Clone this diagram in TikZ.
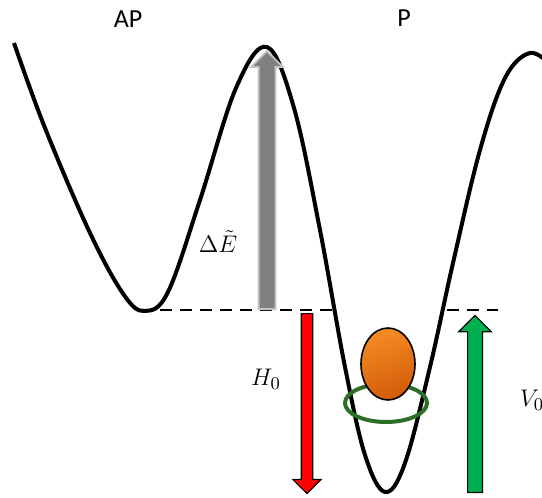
\documentclass[tikz,border=0pt]{standalone}
\usepackage{amsmath}
\usepackage{fontspec}
\setsansfont{Carlito}
\usetikzlibrary{shapes.arrows, positioning, calc}

\definecolor{barriergray}{RGB}{128,128,128}
\definecolor{barrieredge}{RGB}{195,195,195}
\definecolor{upgreen}{RGB}{0,176,80}
\definecolor{ringgreen}{RGB}{45,110,40}
\definecolor{ballhi}{RGB}{245,140,35}
\definecolor{balllo}{RGB}{210,92,10}

\begin{document}
\begin{tikzpicture}[
			x=0.5pt, y=-0.5pt,
			curve/.style={line width=2pt, line join=round},
			level/.style={line width=0.9pt, dash pattern=on 6pt off 4pt},
			fatarrow/.style={single arrow, inner xsep=0pt, anchor=tail, line width=0.6pt},
			statelabel/.style={font=\sffamily\fontsize{13}{15}\selectfont},
			mathlabel/.style={font=\fontsize{12.5}{15}\selectfont}
			]
			\clip (0,0) rectangle (542,498);
			
			% Potential
			\draw[curve] plot[smooth, tension=0.6] coordinates {
				(14,43) (45,128) (90,233) (124,295) (145,311) (168,292)
				(200,200) (236,88) (267,47) (294,108) (320,230) (345,367)
				(365,455) (385,492) (405,463) (430,367) (453,263) (480,150)
				(505,78) (530,53) (552,66)};
			
			% Levels
			\coordinate (apmin) at (160,310);
			\coordinate (wallL) at (333,310);
			\coordinate (wallR) at (447,310);
			\coordinate (rimR) at (498,310);
			\draw[level] (apmin) -- (wallL);
			\draw[level] (wallR) -- (rimR);
			
			% Particle
			\draw[ringgreen, line width=2pt] (386,403) ellipse [x radius=41, y radius=19];
			\draw[line width=0.8pt, top color=ballhi, bottom color=balllo, shading angle=20]
				(388,364) ellipse [x radius=27, y radius=36];
			
			% Arrows
			\node[fatarrow, rotate=90, fill=barriergray, draw=barrieredge, line width=0.9pt,
				minimum height=129pt, inner ysep=3.75pt, single arrow head extend=3.75pt]
				(barrier) at (267,310) {};
			\node[fatarrow, rotate=-90, fill=red, draw=black,
				minimum height=90pt, inner ysep=2.6pt, single arrow head extend=4.2pt]
				(hfield) at (307,313) {};
			\node[fatarrow, rotate=90, fill=upgreen, draw=black,
				minimum height=88.5pt, inner ysep=3.4pt, single arrow head extend=4.5pt]
				(vbias) at (475,493) {};
			
			% Labels
			\node[statelabel] (ap) at (128,19) {AP};
			\node[statelabel] (p) at (404,18) {P};
			\node[mathlabel] (de) at (218,242) {$\Delta\tilde{E}$};
			\node[mathlabel] (h0) at (266,379) {$H_0$};
			\node[mathlabel, anchor=west] (v0) at (513,400) {$V_0$};
			
		\end{tikzpicture}
\end{document}
